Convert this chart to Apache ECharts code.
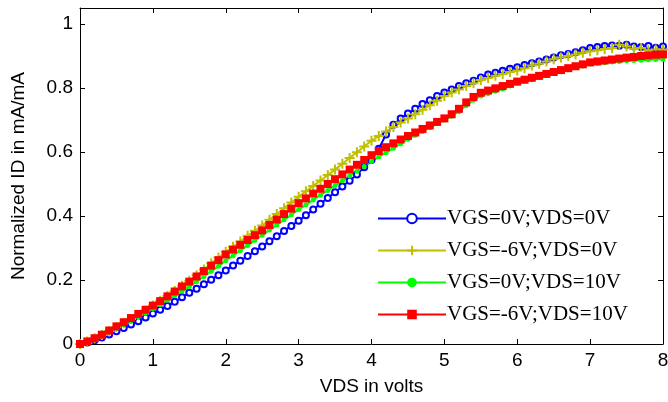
<!DOCTYPE html>
<html>
<head>
<meta charset="utf-8">
<script src="https://cdn.jsdelivr.net/npm/echarts@6/dist/echarts.min.js"></script>
<style>
  html, body { margin: 0; padding: 0; background: #fff; }
  #chart { width: 668px; height: 402px; }
</style>
</head>
<body>
<div id="chart"></div>
<script>
// VDS sweep, 0..8 V in 0.1 V steps
const vds = [
  0.0, 0.1, 0.2, 0.3, 0.4, 0.5, 0.6, 0.7, 0.8, 0.9,
  1.0, 1.1, 1.2, 1.3, 1.4, 1.5, 1.6, 1.7, 1.8, 1.9,
  2.0, 2.1, 2.2, 2.3, 2.4, 2.5, 2.6, 2.7, 2.8, 2.9,
  3.0, 3.1, 3.2, 3.3, 3.4, 3.5, 3.6, 3.7, 3.8, 3.9,
  4.0, 4.1, 4.2, 4.3, 4.4, 4.5, 4.6, 4.7, 4.8, 4.9,
  5.0, 5.1, 5.2, 5.3, 5.4, 5.5, 5.6, 5.7, 5.8, 5.9,
  6.0, 6.1, 6.2, 6.3, 6.4, 6.5, 6.6, 6.7, 6.8, 6.9,
  7.0, 7.1, 7.2, 7.3, 7.4, 7.5, 7.6, 7.7, 7.8, 7.9,
  8.0
]

// VGS=0V;VDS=0V
const idBlue = [
  0, 0.005, 0.012, 0.02, 0.03, 0.04, 0.05, 0.061, 0.071, 0.083,
  0.095, 0.107, 0.119, 0.132, 0.146, 0.16, 0.173, 0.187, 0.201, 0.215,
  0.23, 0.245, 0.26, 0.275, 0.29, 0.305, 0.321, 0.337, 0.353, 0.369,
  0.385, 0.402, 0.42, 0.438, 0.456, 0.474, 0.492, 0.51, 0.53, 0.552,
  0.575, 0.61, 0.655, 0.685, 0.705, 0.72, 0.735, 0.75, 0.762, 0.775,
  0.786, 0.795, 0.806, 0.815, 0.823, 0.833, 0.842, 0.848, 0.854, 0.86,
  0.865, 0.872, 0.877, 0.883, 0.889, 0.895, 0.902, 0.906, 0.912, 0.918,
  0.925, 0.928, 0.931, 0.933, 0.932, 0.935, 0.93, 0.928, 0.931, 0.926,
  0.93
]

// VGS=-6V;VDS=0V
const idYellow = [
  0, 0.008, 0.018, 0.028, 0.041, 0.053, 0.065, 0.078, 0.091, 0.105,
  0.12, 0.135, 0.15, 0.166, 0.182, 0.198, 0.215, 0.233, 0.252, 0.27,
  0.288, 0.304, 0.32, 0.338, 0.354, 0.37, 0.388, 0.406, 0.424, 0.442,
  0.46, 0.477, 0.494, 0.511, 0.528, 0.545, 0.563, 0.581, 0.599, 0.617,
  0.635, 0.65, 0.664, 0.678, 0.692, 0.705, 0.718, 0.732, 0.746, 0.76,
  0.775, 0.786, 0.795, 0.806, 0.815, 0.825, 0.831, 0.838, 0.844, 0.85,
  0.855, 0.862, 0.87, 0.876, 0.883, 0.89, 0.895, 0.9, 0.905, 0.91,
  0.915, 0.918, 0.922, 0.925, 0.935, 0.93, 0.922, 0.925, 0.918, 0.92,
  0.92
]

// VGS=0V;VDS=10V
const idGreen = [
  0, 0.007, 0.016, 0.026, 0.037, 0.049, 0.061, 0.073, 0.085, 0.097,
  0.11, 0.123, 0.137, 0.151, 0.165, 0.18, 0.195, 0.211, 0.227, 0.243,
  0.26, 0.276, 0.292, 0.308, 0.324, 0.34, 0.356, 0.372, 0.388, 0.404,
  0.42, 0.435, 0.45, 0.465, 0.48, 0.495, 0.51, 0.525, 0.54, 0.555,
  0.57, 0.585, 0.598, 0.612, 0.626, 0.64, 0.652, 0.664, 0.676, 0.688,
  0.7, 0.712, 0.726, 0.745, 0.762, 0.775, 0.783, 0.79, 0.797, 0.806,
  0.815, 0.82, 0.826, 0.832, 0.838, 0.845, 0.851, 0.857, 0.863, 0.869,
  0.875, 0.877, 0.879, 0.881, 0.883, 0.885, 0.886, 0.887, 0.888, 0.889,
  0.89
]

// VGS=-6V;VDS=10V
const idRed = [
  0, 0.008, 0.018, 0.029, 0.042, 0.055, 0.068, 0.081, 0.094, 0.107,
  0.12, 0.134, 0.149, 0.164, 0.18, 0.195, 0.211, 0.228, 0.245, 0.262,
  0.28, 0.295, 0.31, 0.325, 0.34, 0.355, 0.372, 0.389, 0.406, 0.423,
  0.44, 0.455, 0.47, 0.485, 0.5, 0.515, 0.53, 0.545, 0.56, 0.575,
  0.59, 0.603, 0.615, 0.627, 0.639, 0.65, 0.661, 0.672, 0.683, 0.694,
  0.705, 0.718, 0.735, 0.755, 0.772, 0.785, 0.792, 0.799, 0.806, 0.813,
  0.82, 0.826, 0.832, 0.838, 0.844, 0.85, 0.856, 0.862, 0.868, 0.874,
  0.88, 0.883, 0.886, 0.889, 0.892, 0.895, 0.897, 0.9, 0.902, 0.904,
  0.905
]

const seriesNames = ['VGS=0V;VDS=0V', 'VGS=-6V;VDS=0V', 'VGS=0V;VDS=10V', 'VGS=-6V;VDS=10V']

const plusPath = 'path://M4,0 L6,0 L6,4 L10,4 L10,6 L6,6 L6,10 L4,10 L4,6 L0,6 L0,4 L4,4 Z'

function pairs(ys) {
  return vds.map((x, i) => [x, ys[i]])
}

const chart = echarts.init(document.getElementById('chart'))

const axisLine = { show: true, onZero: false, lineStyle: { color: '#000', width: 1 } }
const tick = { show: true, inside: true, length: 5, lineStyle: { color: '#000' } }
const label = { color: '#000', fontFamily: 'Liberation Sans, Arial, sans-serif', fontSize: 19 }

chart.setOption({
  animation: false,
  backgroundColor: '#fff',
  grid: { left: 80, right: 5, top: 8, bottom: 58, outerBoundsMode: 'none' },
  legend: {
    left: 372,
    top: 203,
    orient: 'vertical',
    itemWidth: 68,
    itemHeight: 12,
    itemGap: 11,
    textStyle: { color: '#000', fontFamily: 'Liberation Serif, Times New Roman, serif', fontSize: 21, padding: [0, 0, 0, -4] },
    data: seriesNames
  },
  xAxis: [
    {
      type: 'value', min: 0, max: 8, interval: 1,
      name: 'VDS in volts', nameLocation: 'middle', nameGap: 33,
      nameTextStyle: { color: '#000', fontFamily: 'Liberation Sans, Arial, sans-serif', fontSize: 19 },
      axisLine, axisTick: tick, axisLabel: { ...label, margin: 7 }, splitLine: { show: false }
    },
    {
      type: 'value', position: 'top', min: 0, max: 8, interval: 1,
      axisLine, axisTick: tick, axisLabel: { show: false }, splitLine: { show: false }
    }
  ],
  yAxis: [
    {
      type: 'value', min: 0, max: 1.05, interval: 0.2,
      name: 'Normalized ID in mA/mA', nameLocation: 'middle', nameGap: 52, nameRotate: 90,
      nameTextStyle: { color: '#000', fontFamily: 'Liberation Sans, Arial, sans-serif', fontSize: 19 },
      axisLine, axisTick: tick,
      axisLabel: { ...label, margin: 7, showMaxLabel: false, formatter: v => String(Math.round(v * 10) / 10) },
      splitLine: { show: false }
    },
    {
      type: 'value', position: 'right', min: 0, max: 1.05, interval: 0.2,
      axisLine, axisTick: tick, axisLabel: { show: false }, splitLine: { show: false }
    }
  ],
  series: [
    {
      name: seriesNames[0], type: 'line', data: pairs(idBlue),
      symbol: 'circle', symbolSize: 6, showAllSymbol: true,
      lineStyle: { color: '#0000ff', width: 2 },
      itemStyle: { color: '#fff', borderColor: '#0000ff', borderWidth: 2 }
    },
    {
      name: seriesNames[1], type: 'line', data: pairs(idYellow),
      symbol: plusPath, symbolSize: 10, showAllSymbol: true,
      lineStyle: { color: '#bfbf00', width: 2 },
      itemStyle: { color: '#bfbf00' }
    },
    {
      name: seriesNames[2], type: 'line', data: pairs(idGreen),
      symbol: 'circle', symbolSize: 5, showAllSymbol: true,
      lineStyle: { color: '#00ff00', width: 2 },
      itemStyle: { color: '#00ff00' }
    },
    {
      name: seriesNames[3], type: 'line', data: pairs(idRed),
      symbol: 'rect', symbolSize: 8, showAllSymbol: true,
      lineStyle: { color: '#ff0000', width: 2 },
      itemStyle: { color: '#ff0000' }
    }
  ]
})
</script>
</body>
</html>
